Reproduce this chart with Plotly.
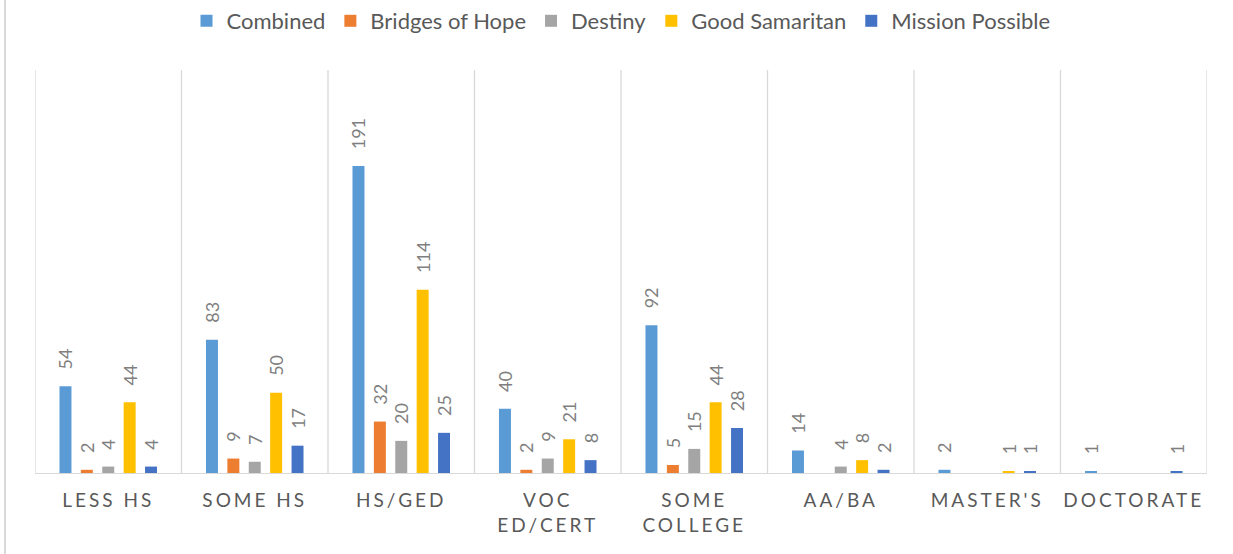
import plotly.graph_objects as go

categories = ["LESS HS", "SOME HS", "HS/GED", "VOC<br>ED/CERT", "SOME<br>COLLEGE", "AA/BA", "MASTER'S", "DOCTORATE"]
combined = [54, 83, 191, 40, 92, 14, 2, 1]
bridges_of_hope = [2, 9, 32, 2, 5, 0, 0, 0]
destiny = [4, 7, 20, 9, 15, 4, 0, 0]
good_samaritan = [44, 50, 114, 21, 44, 8, 1, 0]
mission_possible = [4, 17, 25, 8, 28, 2, 1, 1]

series = [
    ("Combined", combined, "#5B9BD5"),
    ("Bridges of Hope", bridges_of_hope, "#ED7D31"),
    ("Destiny", destiny, "#A5A5A5"),
    ("Good Samaritan", good_samaritan, "#FFC000"),
    ("Mission Possible", mission_possible, "#4472C4"),
]

FONT = "Lato, Carlito, Calibri, sans-serif"
PAD = "\u00a0\u00a0\u00a0"

fig = go.Figure()
for name, vals, color in series:
    fig.add_trace(go.Bar(
        name=name, x=categories, y=vals,
        marker=dict(color=color, line=dict(width=0)),
        text=[(PAD + str(v)) if v else "" for v in vals],
        textposition="outside", textangle=-90,
        constraintext="none", cliponaxis=False,
        textfont=dict(family=FONT, size=18, color="#7F7F7F"),
        hoverinfo="skip",
    ))

shapes = []
for i in range(len(categories) + 1):
    shapes.append(dict(type="line", xref="x", yref="paper", x0=i - 0.5, x1=i - 0.5,
                       y0=0, y1=1, line=dict(color="#D9D9D9", width=1.3), layer="below"))
# outer chart border (left edge visible)
shapes.append(dict(type="line", xref="paper", yref="paper", xsizemode="pixel", xanchor=0,
                   x0=-30, x1=-30, y0=-0.5, y1=1.5, line=dict(color="#D9D9D9", width=2)))

fig.update_layout(
    width=1233, height=554,
    margin=dict(l=35, r=26, t=70, b=81),
    paper_bgcolor="white", plot_bgcolor="white",
    barmode="group", bargap=0.27, bargroupgap=0.44,
    font=dict(family=FONT, color="#595959"),
    showlegend=True,
    legend=dict(orientation="h", x=0.5, xanchor="center", yref="container", y=1.0,
                yanchor="top", font=dict(family=FONT, size=22, color="#595959"),
                itemclick=False, itemdoubleclick=False),
    xaxis=dict(type="category", showgrid=False, showline=True, linecolor="#D9D9D9",
               linewidth=1.3, ticks="", tickfont=dict(family=FONT, size=19, color="#595959"),
               ticklabelstandoff=10, range=[-0.5, len(categories) - 0.5]),
    yaxis=dict(range=[0, 250.8], showgrid=False, showticklabels=False, zeroline=False,
               showline=False, ticks=""),
    shapes=shapes,
)

post = ("document.body.style.margin='0';document.body.style.overflow='hidden';"
        "document.querySelectorAll('.xtick text').forEach(function(t){t.style.letterSpacing='3px';});")
fig.write_html("out.html", post_script=post, config={"displayModeBar": False})
